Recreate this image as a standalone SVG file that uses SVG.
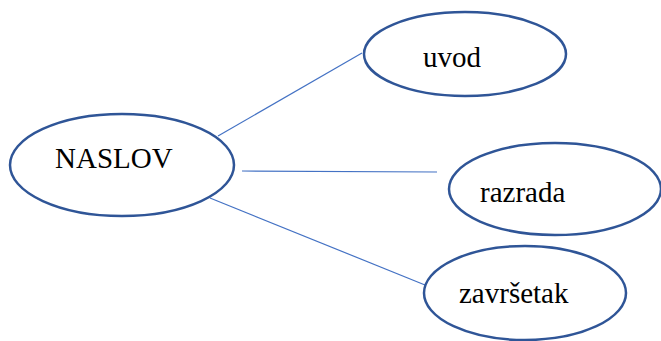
<svg xmlns="http://www.w3.org/2000/svg" width="661" height="341" viewBox="0 0 661 341">
<style>
.node ellipse{fill:#fff;stroke:#2F5597;stroke-width:2.5}
.node text{font-family:"Liberation Serif","Times New Roman",serif;font-size:29px;fill:#000}
#edges line{stroke:#4472C4;stroke-width:1.2}
</style>
<rect width="661" height="341" fill="#fff"/>
<g id="edges">
<line x1="218" y1="136" x2="362" y2="53"/>
<line x1="242" y1="171" x2="437" y2="172"/>
<line x1="210" y1="198" x2="425" y2="285"/>
</g>
<g id="naslov" class="node">
<ellipse cx="122" cy="165" rx="112" ry="51"/>
<text x="55" y="168">NASLOV</text>
</g>
<g id="uvod" class="node">
<ellipse cx="465" cy="54" rx="101" ry="42"/>
<text x="423" y="67">uvod</text>
</g>
<g id="razrada" class="node">
<ellipse cx="555" cy="189" rx="106" ry="46"/>
<text x="480" y="202">razrada</text>
</g>
<g id="zavrsetak" class="node">
<ellipse cx="525" cy="293" rx="101" ry="47"/>
<text x="459" y="303">završetak</text>
</g>
</svg>
